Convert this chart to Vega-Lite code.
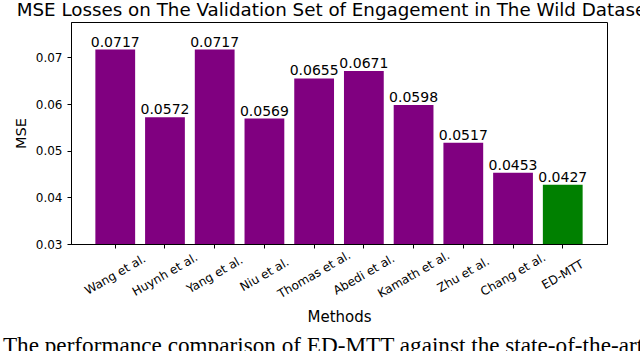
{
  "$schema": "https://vega.github.io/schema/vega-lite/v6.json",
  "padding": {"left": 2, "top": 1, "right": 5, "bottom": 0},
  "title": {"text": "MSE Losses on The Validation Set of Engagement in The Wild Dataset", "font": "DejaVu Sans", "fontSize": 18.3, "fontWeight": "normal", "color": "black", "anchor": "middle", "offset": 1, "dx": 12},
  "data": {"values": [
    {"method": "Wang et al.", "mse": 0.0717, "group": "other"},
    {"method": "Huynh et al.", "mse": 0.0572, "group": "other"},
    {"method": "Yang et al.", "mse": 0.0717, "group": "other"},
    {"method": "Niu et al.", "mse": 0.0569, "group": "other"},
    {"method": "Thomas et al.", "mse": 0.0655, "group": "other"},
    {"method": "Abedi et al.", "mse": 0.0671, "group": "other"},
    {"method": "Kamath et al.", "mse": 0.0598, "group": "other"},
    {"method": "Zhu et al.", "mse": 0.0517, "group": "other"},
    {"method": "Chang et al.", "mse": 0.0453, "group": "other"},
    {"method": "ED-MTT", "mse": 0.0427, "group": "ours"}
  ]},
  "vconcat": [
    {
      "width": 536,
      "height": 222,
      "title": {"text": "The performance comparison of ED-MTT against the state-of-the-art", "orient": "bottom", "anchor": "middle", "font": "Liberation Serif", "fontSize": 23.2, "fontWeight": "normal", "color": "black", "offset": 10, "dx": -16},
      "encoding": {
        "x": {"field": "method", "type": "nominal", "sort": null,
              "scale": {"paddingInner": 0.2, "paddingOuter": 0.49},
              "axis": {"title": "Methods", "labelAngle": -30, "labelAlign": "center", "labelBaseline": "middle", "labelFontSize": 12, "labelFont": "DejaVu Sans", "labelColor": "black", "titleFont": "DejaVu Sans", "titleFontSize": 15, "titleFontWeight": "normal", "titleColor": "black", "domainColor": "black", "tickColor": "black", "tickSize": 4, "labelPadding": 26, "titlePadding": 10}},
        "y": {"field": "mse", "type": "quantitative",
              "scale": {"domain": [0.03, 0.0776], "nice": false, "zero": false},
              "axis": {"title": "MSE", "values": [0.03, 0.04, 0.05, 0.06, 0.07], "format": ".2f", "grid": false, "labelFontSize": 12, "labelFont": "DejaVu Sans", "labelColor": "black", "titleFont": "DejaVu Sans", "titleFontSize": 14.5, "titleFontWeight": "normal", "titleColor": "black", "domainColor": "black", "tickColor": "black", "tickSize": 4, "labelPadding": 5, "titlePadding": 7}}
      },
      "layer": [
        {"mark": {"type": "bar"},
         "encoding": {
           "y2": {"datum": 0.03},
           "color": {"field": "group", "type": "nominal", "scale": {"domain": ["other", "ours"], "range": ["#800080", "#008000"]}, "legend": null}
         }},
        {"mark": {"type": "text", "baseline": "bottom", "dy": 0, "font": "DejaVu Sans", "fontSize": 14, "color": "black"},
         "encoding": {"text": {"field": "mse", "type": "quantitative", "format": ".4f"}}}
      ]
    }
  ],
  "config": {"view": {"stroke": "black", "strokeWidth": 1}, "background": "white"}
}
